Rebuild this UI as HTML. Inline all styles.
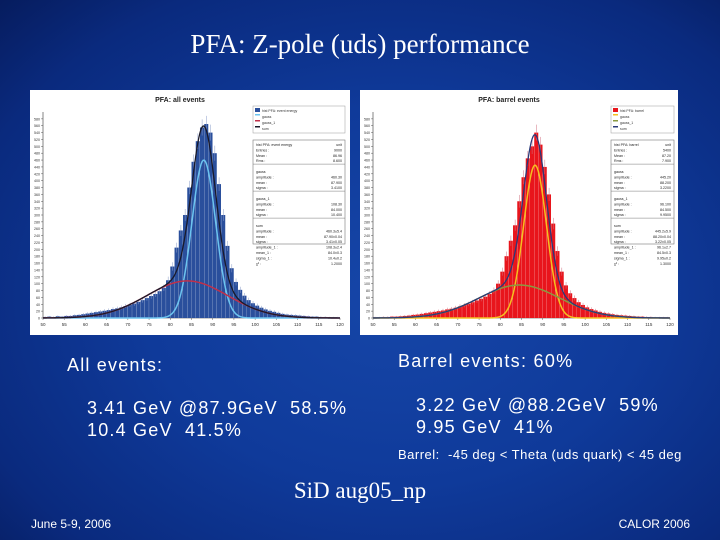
<!DOCTYPE html>
<html><head><meta charset="utf-8">
<style>
html,body{margin:0;padding:0}
body{width:720px;height:540px;overflow:hidden;position:relative;
background:radial-gradient(ellipse at 55% 55%,#1646a8 0%,#0f3a9a 45%,#0a2a7e 80%,#061c5e 100%);
font-family:"Liberation Sans",sans-serif;color:#fff}
.t{position:absolute;white-space:nowrap;line-height:1.2}
.b{font-size:18px;letter-spacing:1.2px}
</style></head><body>
<div class="t" style="left:0;width:720px;text-align:center;top:28px;font-family:'Liberation Serif',serif;font-size:27px">PFA: Z-pole (uds) performance</div>

<svg id="charts" width="720" height="540" style="position:absolute;left:0;top:0"></svg>

<div class="t b" style="left:67px;top:355px">All events:</div>
<div class="t b" style="left:87px;top:398px">3.41 GeV @87.9GeV&nbsp; 58.5%</div>
<div class="t b" style="left:87px;top:420px">10.4 GeV&nbsp; 41.5%</div>
<div class="t b" style="left:398px;top:351px;letter-spacing:1.3px">Barrel events: 60%</div>
<div class="t b" style="left:416px;top:395px">3.22 GeV @88.2GeV&nbsp; 59%</div>
<div class="t b" style="left:416px;top:417px">9.95 GeV&nbsp; 41%</div>
<div class="t" style="left:398px;top:447px;font-size:13px;letter-spacing:0.5px">Barrel:&nbsp; -45 deg &lt; Theta (uds quark) &lt; 45 deg</div>
<div class="t" style="left:0;width:720px;text-align:center;top:477px;font-family:'Liberation Serif',serif;font-size:23px">SiD aug05_np</div>
<div class="t" style="left:31px;top:517px;font-size:12px">June 5-9, 2006</div>
<div class="t" style="right:30px;top:517px;font-size:12px">CALOR 2006</div>

<script>
// bins 50..119 (1 GeV wide)
const binStart = 50;
const allCounts = [3,4,3,5,4,6,6,8,9,11,13,15,17,19,21,23,26,28,31,35,38,42,47,52,58,64,70,78,88,110,150,205,255,300,380,455,515,555,565,540,480,390,300,210,145,105,82,65,52,43,36,30,25,21,18,15,12,10,9,8,7,6,5,4,4,3,3,2,2,2];
const barrelCounts = [2,2,3,3,4,4,5,6,7,9,10,12,14,16,18,20,22,25,27,30,34,37,41,46,51,56,62,70,80,100,135,180,225,270,340,410,465,500,540,505,440,360,275,195,135,95,72,58,46,38,31,26,22,18,15,13,11,9,8,7,6,5,4,4,3,3,2,2,2,2];
// fit parameters [amplitude, mean, sigma]
const allNarrow = [460, 87.9, 2.8];
const allWide = [108, 84, 9.5];
const barrelNarrow = [445, 88.2, 2.7];
const barrelWide = [96, 84.5, 9.5];
const xTicks = [50,55,60,65,70,75,80,85,90,95,100,105,110,115,120];

const NS='http://www.w3.org/2000/svg';
const svg=document.getElementById('charts');
function mk(tag,attrs,parent){const e=document.createElementNS(NS,tag);for(const k in attrs)e.setAttribute(k,attrs[k]);(parent||svg).appendChild(e);return e;}
function g(p,x){return p[0]*Math.exp(-0.5*((x-p[1])/p[2])**2);}

function drawPanel(o){
  const grp=mk('g',{});
  
  
  const bg=mk('rect',{x:o.px,y:90,width:o.pw,height:245,fill:'#fff'},grp);
  
  
  const tt=mk('text',{x:o.px+o.pw/2-10,y:102,'font-size':'7','font-weight':'bold','text-anchor':'middle',fill:'#222','font-family':'Liberation Sans, sans-serif'},grp);
  tt.textContent=o.title;
  
  
  const x0=o.x0,x1=o.x1,yb=318,yt=112,ymax=600;
  const X=v=>x0+(v-50)/70*(x1-x0);
  const Y=v=>yb-v/ymax*(yb-yt);
  mk('line',{x1:x0,y1:yt,x2:x0,y2:yb,stroke:'#333','stroke-width':0.6},grp);
  mk('line',{x1:x0,y1:yb,x2:x1,y2:yb,stroke:'#333','stroke-width':0.6},grp);
  for(let v=0;v<=580;v+=20){
    mk('line',{x1:x0-2,y1:Y(v),x2:x0,y2:Y(v),stroke:'#333','stroke-width':0.4},grp);
    const t=mk('text',{x:x0-3,y:Y(v)+1.5,'font-size':'3.6','text-anchor':'end',fill:'#333'},grp);t.textContent=v;
    
    
  }
  xTicks.forEach(v=>{
    mk('line',{x1:X(v),y1:yb,x2:X(v),y2:yb+2,stroke:'#333','stroke-width':0.4},grp);
    const t=mk('text',{x:X(v),y:yb+8,'font-size':'4.5','text-anchor':'middle',fill:'#333'},grp);t.textContent=v;
    
    
  });
  o.counts.forEach((c,i)=>{
    const b=mk('rect',{x:X(binStart+i),y:Y(c),width:X(binStart+i+1)-X(binStart+i)-0.2,height:yb-Y(c),fill:o.bar},grp);
    
    
    mk('line',{x1:X(binStart+i+0.5),y1:Y(c+Math.sqrt(c)),x2:X(binStart+i+0.5),y2:Y(Math.max(0,c-Math.sqrt(c))),stroke:o.err,'stroke-width':0.5},grp);
  });
  const curve=(f,col,name,w)=>{let d='';for(let x=50;x<=120;x+=0.25){d+=(d?'L':'M')+X(x).toFixed(2)+','+Y(f(x)).toFixed(2);}
    const p=mk('path',{d,fill:'none',stroke:col,'stroke-width':w},grp);
    
    };
  curve(x=>g(o.narrow,x),o.c1,'narrow-gauss-curve',1.5);
  curve(x=>g(o.wide,x),o.c2,'wide-gauss-curve',1.5);
  curve(x=>g(o.narrow,x)+g(o.wide,x),o.c3,'sum-curve',1.3);
  const lg=mk('g',{},grp);
  
  
  mk('rect',{x:o.lx,y:106,width:o.lw,height:27,fill:'#fff',stroke:'#999','stroke-width':0.5},lg);
  [[o.bar,o.leg0],[o.c1,'gauss'],[o.c2,'gauss_1'],[o.c3,'sum']].forEach((e,i)=>{
    mk('rect',{x:o.lx+2,y:108+i*6,width:5,height:i?1.5:4,fill:e[0]},lg);
    const t=mk('text',{x:o.lx+9,y:112+i*6,'font-size':'3.5',fill:'#333'},lg);t.textContent=e[1];
    
    
  });
  const sb=mk('g',{},grp);
  
  
  mk('rect',{x:o.lx,y:140,width:o.lw,height:104,fill:'#fff',stroke:'#777','stroke-width':0.6},sb);
  o.stats.forEach((r,i)=>{
    const y=146+i*5.4;
    if(r[0]==='-'){mk('line',{x1:o.lx,y1:y-3.5,x2:o.lx+o.lw,y2:y-3.5,stroke:'#777','stroke-width':0.5},sb);return;}
    const a=mk('text',{x:o.lx+3,y,'font-size':'3.6',fill:'#222'},sb);a.textContent=r[0];
    const b=mk('text',{x:o.lx+o.lw-3,y,'font-size':'3.6','text-anchor':'end',fill:'#222'},sb);b.textContent=r[1];
  });
}
const statsA=[['hist PFA: event energy','unit'],['Entries :','9000'],['Mean :','86.96'],['Rms :','8.600'],['-',''],['gauss',''],['amplitude :','460.30'],['mean :','87.900'],['sigma :','3.4100'],['-',''],['gauss_1',''],['amplitude :','108.30'],['mean :','84.000'],['sigma :','10.400'],['-',''],['sum',''],['amplitude :','460.3±5.4'],['mean :','87.90±0.04'],['sigma :','3.41±0.05'],['amplitude_1 :','108.3±2.4'],['mean_1 :','84.0±0.3'],['sigma_1 :','10.4±0.2'],['χ² :','1.2000']];
const statsB=[['hist PFA: barrel','unit'],['Entries :','5400'],['Mean :','87.20'],['Rms :','7.900'],['-',''],['gauss',''],['amplitude :','445.20'],['mean :','88.200'],['sigma :','3.2200'],['-',''],['gauss_1',''],['amplitude :','96.100'],['mean :','84.500'],['sigma :','9.9500'],['-',''],['sum',''],['amplitude :','445.2±5.9'],['mean :','88.20±0.04'],['sigma :','3.22±0.05'],['amplitude_1 :','96.1±2.7'],['mean_1 :','84.5±0.3'],['sigma_1 :','9.95±0.2'],['χ² :','1.3000']];
drawPanel({name:'all-events-chart',title:'PFA: all events',px:30,pw:320,x0:43,x1:340,lx:253,lw:92,counts:allCounts,narrow:allNarrow,wide:allWide,bar:'#2a4f9c',err:'#8a9cc8',c1:'#6cc4f0',c2:'#c0304a',c3:'#1a1a2a',leg0:'hist PFA: event energy',stats:statsA});
drawPanel({name:'barrel-events-chart',title:'PFA: barrel events',px:360,pw:318,x0:373,x1:670,lx:611,lw:63,counts:barrelCounts,narrow:barrelNarrow,wide:barrelWide,bar:'#e8151c',err:'#d07080',c1:'#f5c020',c2:'#8a9a40',c3:'#2a3a7a',leg0:'hist PFA: barrel',stats:statsB});
</script>
</body></html>
